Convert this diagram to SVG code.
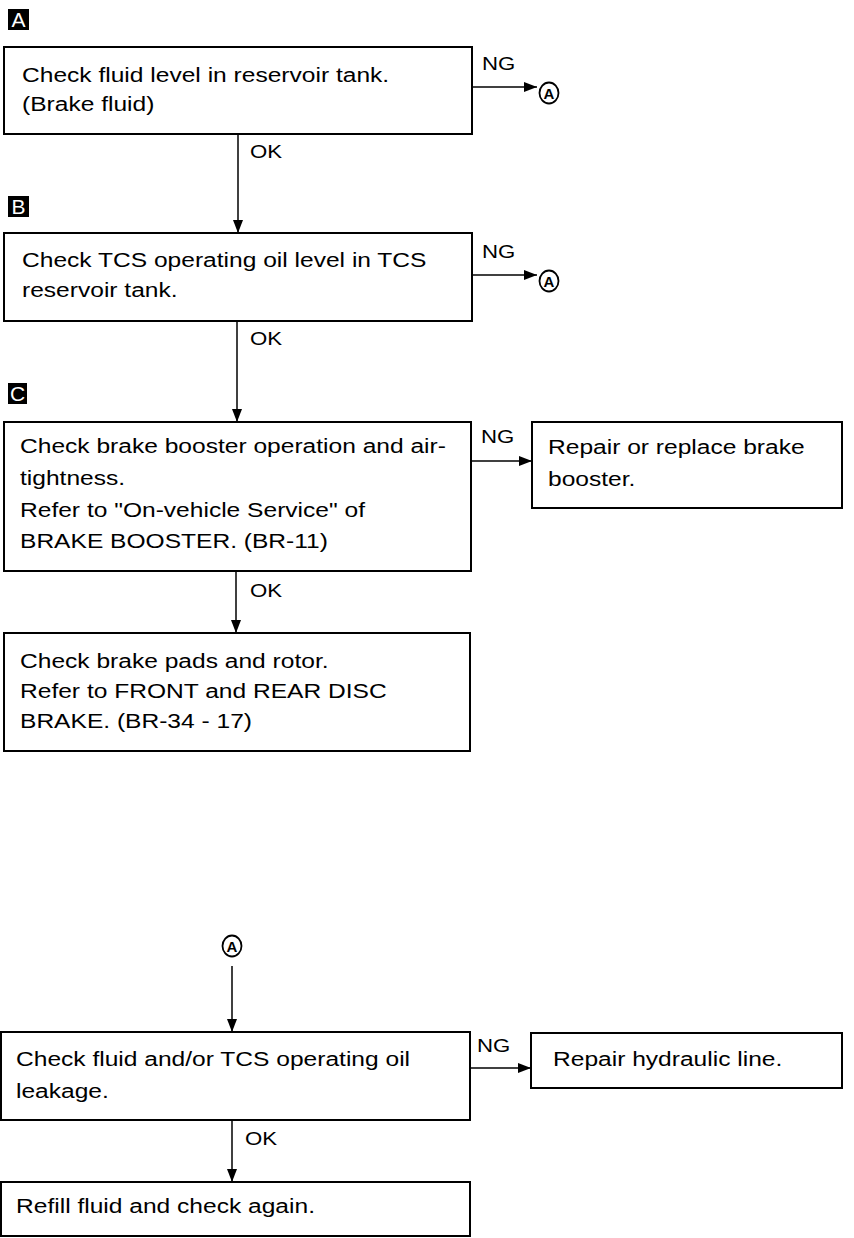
<svg xmlns="http://www.w3.org/2000/svg" width="854" height="1238" viewBox="0 0 854 1238">
<defs>
<marker id="ah" markerUnits="userSpaceOnUse" markerWidth="13" markerHeight="10" refX="13" refY="5" orient="auto"><path d="M0,0 L13,5 L0,10 Z" fill="#000"/></marker>
<style>
.box{fill:#fff;stroke:#000;stroke-width:2}
.t{font-family:"Liberation Sans",Arial,sans-serif;font-size:21px;fill:#000}
.lb{font-family:"Liberation Sans",Arial,sans-serif;font-size:19px;fill:#000}
.conn{stroke:#000;stroke-width:1.5;fill:none}
.tag{fill:#000}
.tagt{font-family:"Liberation Sans",Arial,sans-serif;font-size:21px;fill:#fff;text-anchor:middle}
.ca{fill:#fff;stroke:#000;stroke-width:1.8}
.cat{font-family:"Liberation Sans",Arial,sans-serif;font-size:15px;font-weight:bold;text-anchor:middle;fill:#000}
</style>
</defs>
<rect x="0" y="0" width="854" height="1238" fill="#fff"/>

<g id="tagA"><rect class="tag" x="8" y="9" width="21" height="21"/><text class="tagt" x="18.5" y="27">A</text></g>
<g id="tagB"><rect class="tag" x="8" y="196" width="21" height="21"/><text class="tagt" x="18.5" y="214">B</text></g>
<g id="tagC"><rect class="tag" x="8" y="383" width="19" height="21"/><text class="tagt" x="17.5" y="401">C</text></g>

<g id="n1"><rect class="box" x="4" y="47" width="468" height="87"/>
<text class="t" transform="translate(22 82) scale(1.17 1)">Check fluid level in reservoir tank.</text>
<text class="t" transform="translate(22 111) scale(1.17 1)">(Brake fluid)</text></g>

<g id="n2"><rect class="box" x="4" y="233" width="468" height="88"/>
<text class="t" transform="translate(22 267) scale(1.17 1)">Check TCS operating oil level in TCS</text>
<text class="t" transform="translate(22 297) scale(1.17 1)">reservoir tank.</text></g>

<g id="n3"><rect class="box" x="4" y="422" width="467" height="149"/>
<text class="t" transform="translate(20 453) scale(1.17 1)">Check brake booster operation and air-</text>
<text class="t" transform="translate(20 485) scale(1.17 1)">tightness.</text>
<text class="t" transform="translate(20 517) scale(1.17 1)">Refer to "On-vehicle Service" of</text>
<text class="t" transform="translate(20 548) scale(1.17 1)">BRAKE BOOSTER. (BR-11)</text></g>

<g id="n4"><rect class="box" x="532" y="422" width="310" height="86"/>
<text class="t" transform="translate(548 454) scale(1.17 1)">Repair or replace brake</text>
<text class="t" transform="translate(548 486) scale(1.17 1)">booster.</text></g>

<g id="n5"><rect class="box" x="4" y="633" width="466" height="118"/>
<text class="t" transform="translate(20 668) scale(1.17 1)">Check brake pads and rotor.</text>
<text class="t" transform="translate(20 698) scale(1.17 1)">Refer to FRONT and REAR DISC</text>
<text class="t" transform="translate(20 728) scale(1.17 1)">BRAKE. (BR-34 - 17)</text></g>

<g id="refA1"><ellipse class="ca" cx="549" cy="93" rx="9.5" ry="10.5"/><text class="cat" x="549" y="98.5">A</text></g>
<g id="refA2"><ellipse class="ca" cx="549" cy="281" rx="9.5" ry="10.5"/><text class="cat" x="549" y="286.5">A</text></g>
<g id="refA3"><ellipse class="ca" cx="232" cy="946" rx="9.5" ry="10.5"/><text class="cat" x="232" y="951.5">A</text></g>

<g id="n6"><rect class="box" x="1" y="1032" width="469" height="88"/>
<text class="t" transform="translate(16 1066) scale(1.17 1)">Check fluid and/or TCS operating oil</text>
<text class="t" transform="translate(16 1098) scale(1.17 1)">leakage.</text></g>

<g id="n7"><rect class="box" x="531" y="1033" width="311" height="55"/>
<text class="t" transform="translate(553 1066) scale(1.17 1)">Repair hydraulic line.</text></g>

<g id="n8"><rect class="box" x="1" y="1182" width="469" height="54"/>
<text class="t" transform="translate(16 1213) scale(1.17 1)">Refill fluid and check again.</text></g>

<g id="connectors">
<line class="conn" x1="472" y1="87" x2="537" y2="87" marker-end="url(#ah)"/>
<line class="conn" x1="238" y1="134" x2="238" y2="233" marker-end="url(#ah)"/>
<line class="conn" x1="472" y1="275" x2="537" y2="275" marker-end="url(#ah)"/>
<line class="conn" x1="237" y1="321" x2="237" y2="422" marker-end="url(#ah)"/>
<line class="conn" x1="471" y1="461" x2="532" y2="461" marker-end="url(#ah)"/>
<line class="conn" x1="236" y1="571" x2="236" y2="633" marker-end="url(#ah)"/>
<line class="conn" x1="232" y1="966" x2="232" y2="1032" marker-end="url(#ah)"/>
<line class="conn" x1="470" y1="1068" x2="531" y2="1068" marker-end="url(#ah)"/>
<line class="conn" x1="232" y1="1120" x2="232" y2="1182" marker-end="url(#ah)"/>
<text class="lb" transform="translate(482 70) scale(1.17 1)">NG</text>
<text class="lb" transform="translate(250 158) scale(1.17 1)">OK</text>
<text class="lb" transform="translate(482 258) scale(1.17 1)">NG</text>
<text class="lb" transform="translate(250 345) scale(1.17 1)">OK</text>
<text class="lb" transform="translate(481 443) scale(1.17 1)">NG</text>
<text class="lb" transform="translate(250 597) scale(1.17 1)">OK</text>
<text class="lb" transform="translate(477 1052) scale(1.17 1)">NG</text>
<text class="lb" transform="translate(245 1145) scale(1.17 1)">OK</text>
</g>
</svg>
